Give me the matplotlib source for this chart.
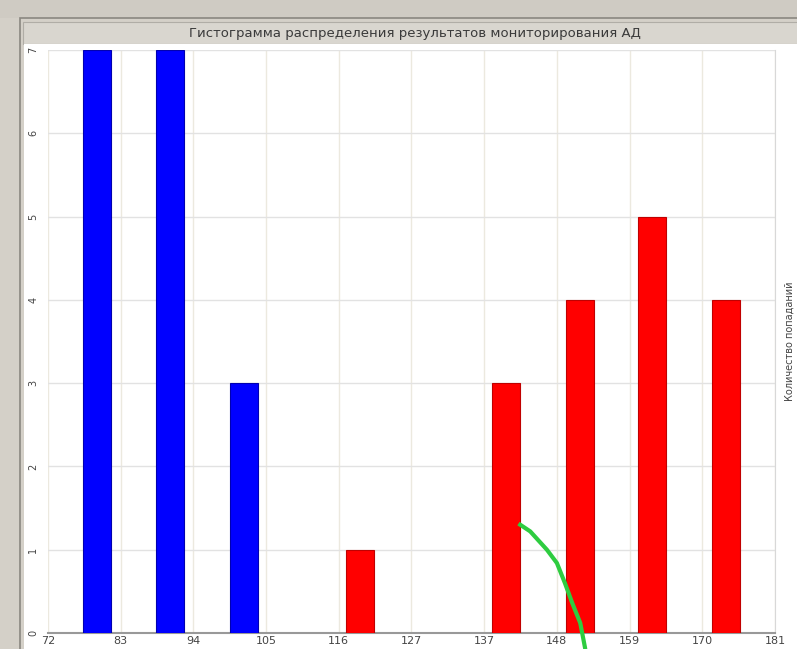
import numpy as np
import matplotlib.pyplot as plt
from matplotlib.patches import Rectangle

# bins of blood pressure values (bar centres) and hit counts
blue_x = [79.4, 90.3, 101.4]
blue_counts = [7, 7, 3]
red_x = [118.8, 140.7, 151.7, 162.6, 173.6]
red_counts = [1, 3, 4, 5, 4]

# green curve
curve_x = [142.8, 144.3, 146.8, 148.3, 149.5, 150.6, 151.8, 152.5]
curve_y = [1.30, 1.22, 1.00, 0.84, 0.60, 0.36, 0.12, -0.17]

x_ticks = np.linspace(72, 181, 11)
x_labels = ["72", "83", "94", "105", "116", "127", "137", "148", "159", "170", "181"]
y_ticks = [0, 1, 2, 3, 4, 5, 6, 7]

W, H = 797, 649
fig = plt.figure(figsize=(W / 100, H / 100), dpi=100, facecolor="#d4d0c8")


def box(x0, y0, x1, y1, **kw):
    # rectangle given in pixel coords from the top-left corner
    fig.patches.append(Rectangle((x0 / W, 1 - y1 / H), (x1 - x0) / W, (y1 - y0) / H,
                                 transform=fig.transFigure, zorder=-5, **kw))


# window frame
box(0, 0, W, 18, facecolor="#cfcbc3", edgecolor="none")
box(20, 18, W + 5, H + 5, facecolor="#d4d0c8", edgecolor="#8a8780", linewidth=1.2)
box(23, 22, W + 5, 44, facecolor="#d9d6cf", edgecolor="#b0ada6", linewidth=0.8)
box(24, 44, W + 5, H + 5, facecolor="white", edgecolor="none")
fig.text(415 / W, 1 - 33 / H, "Гистограмма распределения результатов мониторирования АД",
         ha="center", va="center", fontsize=9.5, color="#3a3a3a")

ax = fig.add_axes([48 / W, 1 - 633 / H, (775 - 48) / W, (633 - 50) / H])
ax.set_zorder(2)
ax.set_facecolor("white")

ax.bar(blue_x, blue_counts, width=4.2, color="#0000ff", edgecolor="#0000b0", linewidth=0.8, zorder=3)
ax.bar(red_x, red_counts, width=4.2, color="#ff0000", edgecolor="#c00000", linewidth=0.8, zorder=3)
ax.plot(curve_x, curve_y, color="#2ecc40", linewidth=3, clip_on=False, zorder=4)

ax.set_xlim(72, 181)
ax.set_ylim(0, 7)
ax.set_xticks(x_ticks)
ax.set_xticklabels(x_labels, fontsize=8, color="#444444")
ax.set_yticks(y_ticks)
ax.set_yticklabels([str(v) for v in y_ticks], fontsize=7, color="#444444", rotation=90, va="center")
ax.tick_params(axis="both", length=0, pad=2)
ax.tick_params(axis="y", pad=7)

ax.grid(axis="y", color="#e2e2e2", linewidth=1, zorder=0)
ax.grid(axis="x", color="#ece9df", linewidth=1, zorder=0)
for s in ["top", "left"]:
    ax.spines[s].set_visible(False)
ax.spines["bottom"].set_color("#999999")
ax.spines["bottom"].set_linewidth(1.5)
ax.spines["right"].set_color("#d8d8d8")

ax.yaxis.set_label_position("right")
ax.set_ylabel("Количество попаданий", fontsize=7, color="#444444", rotation=90, labelpad=7)

plt.savefig("out.png", dpi=100, facecolor=fig.get_facecolor())
